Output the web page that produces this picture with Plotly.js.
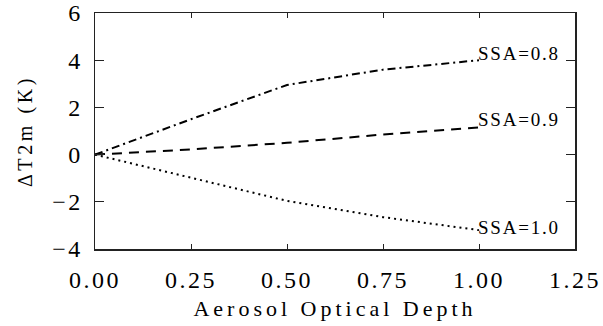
<!DOCTYPE html>
<html>
<head>
<meta charset="utf-8">
<script src="https://cdn.plot.ly/plotly-3.0.1.min.js"></script>
<style>
  html, body { margin: 0; padding: 0; background: #fff; }
  #chart { width: 603px; height: 326px; }
  .xtitle { letter-spacing: 4px; }
  .ytitle { letter-spacing: 3.6px; }
  .annotation-text { letter-spacing: 1.8px; }
  .xtick text, .ytick text { letter-spacing: 2.5px; }
</style>
</head>
<body>
<div id="chart"></div>
<script>
// Data
const aod = [0, 0.25, 0.5, 0.75, 1.0];
const ssa08 = [0, 1.5, 2.95, 3.6, 4.0];
const ssa09 = [0, 0.22, 0.5, 0.85, 1.15];
const ssa10 = [0, -0.97, -1.96, -2.65, -3.2];
const seriesNames = ['SSA=0.8', 'SSA=0.9', 'SSA=1.0'];
const xTicks = [0, 0.25, 0.5, 0.75, 1.0, 1.25];
const xTickText = ['0.00', '0.25', '0.50', '0.75', '1.00', '1.25'];
const yTicks = [-4, -2, 0, 2, 4, 6];

const serif = 'Liberation Serif, Times New Roman, serif';
const allSeries = [ssa08, ssa09, ssa10];
const dashes = ['8px,4px,2px,4px', '10px,7px', '2px,4px'];
const labelShift = [7, 8, 3];

const traces = allSeries.map((ys, i) => ({
  x: aod, y: ys, type: 'scatter', mode: 'lines', name: seriesNames[i],
  line: { color: '#000', width: 2, dash: dashes[i] },
  showlegend: false, hoverinfo: 'skip'
}));

const annotations = allSeries.map((ys, i) => ({
  x: aod[aod.length - 1], y: ys[ys.length - 1], xref: 'x', yref: 'y',
  text: seriesNames[i], showarrow: false, xanchor: 'left', yanchor: 'middle',
  xshift: -3, yshift: labelShift[i],
  font: { family: serif, size: 19, color: '#000' }
}));

const layout = {
  width: 603, height: 326,
  margin: { l: 95, r: 28, t: 13, b: 77 },
  paper_bgcolor: '#fff', plot_bgcolor: '#fff',
  showlegend: false,
  xaxis: {
    range: [0, 1.25], tickvals: xTicks, ticktext: xTickText,
    ticks: 'inside', ticklen: 5, tickwidth: 1, tickcolor: '#222',
    showline: true, linecolor: '#222', linewidth: 1.5, mirror: 'ticks',
    showgrid: false, zeroline: false,
    tickfont: { family: serif, size: 24, color: '#000' },
    ticklabelstandoff: 9, ticklabeloverflow: 'allow',
    title: { text: 'Aerosol Optical Depth', font: { family: serif, size: 22, color: '#000' }, standoff: 8 }
  },
  yaxis: {
    range: [-4.0001, 6.0001], tickvals: yTicks,
    ticks: 'inside', ticklen: 9, tickwidth: 1, tickcolor: '#222',
    showline: true, linecolor: '#222', linewidth: 1.5, mirror: 'ticks',
    showgrid: false, zeroline: false,
    tickfont: { family: serif, size: 24, color: '#000' },
    ticklabelstandoff: 6, ticklabeloverflow: 'allow',
    title: { text: 'ΔT2m (K)', font: { family: serif, size: 20, color: '#000' }, standoff: 14 }
  },
  annotations: annotations
};

Plotly.newPlot('chart', traces, layout, { staticPlot: true, displayModeBar: false });
</script>
</body>
</html>
